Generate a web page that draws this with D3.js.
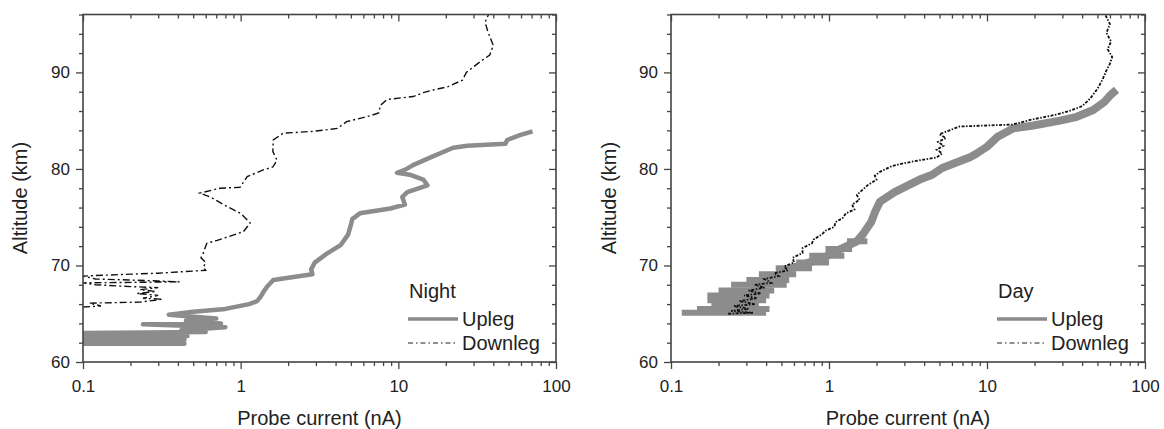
<!DOCTYPE html>
<html lang="en">
<head>
  <meta charset="utf-8">
  <title>Probe current vs altitude</title>
  <script src="https://d3js.org/d3.v7.min.js"></script>
  <style>
    body { margin: 0; background: #fff; }
    svg { font-family: "Liberation Sans", Arial, sans-serif; }
    .tick text { fill: #222; font-size: 17px; }
    .tick line { stroke: #444; stroke-width: 1.3; }
    .domain { display: none; }
    .upleg { fill: none; stroke: #8c8c8c; stroke-linejoin: round; }
    .downleg { fill: none; stroke: #111; }
  </style>
</head>
<body>
<div id="chart"></div>
<script>
"use strict"

// [current nA, altitude km]
var nightUpleg = [
  [0.1,61.9],[0.44,61.9],[0.1,62.3],[0.44,62.3],[0.1,62.7],[0.46,62.7],[0.1,63.0],[0.6,63.1],
  [0.42,63.3],[0.8,63.6],[0.24,63.9],[0.75,64.0],[0.45,64.3],[0.7,64.5],[0.35,64.9],[0.5,65.2],
  [0.8,65.5],[1.13,66.0],[1.27,66.3],[1.33,66.7],[1.4,67.3],[1.47,67.8],[1.61,68.5],[2.39,68.9],
  [2.85,69.1],[2.8,69.6],[2.95,70.3],[3.5,71.2],[4.3,72.1],[4.8,73.2],[5.0,74.2],[5.1,74.8],
  [5.7,75.4],[8.9,75.9],[11,76.3],[10.6,77.1],[11.4,77.6],[15.3,78.3],[14.4,78.9],[11.8,79.4],
  [9.8,79.6],[11.0,79.9],[12.4,80.4],[16,81.2],[22.3,82.2],[27.4,82.4],[47.8,82.6],[49,83.0],
  [59,83.5],[71,83.9]
];
var nightDownleg = [
  [0.1,65.7],[0.13,65.8],[0.11,66.1],[0.23,66.2],[0.32,66.5],[0.24,66.6],[0.3,66.9],[0.22,67.1],
  [0.29,67.3],[0.23,67.5],[0.3,67.7],[0.21,67.8],[0.12,68.0],[0.1,68.2],[0.41,68.3],[0.3,68.4],
  [0.12,68.6],[0.1,68.9],[0.2,69.1],[0.3,69.2],[0.6,69.5],[0.58,69.8],[0.6,70.3],[0.56,70.8],
  [0.58,71.3],[0.6,72.0],[0.61,72.3],[0.71,72.6],[1.04,73.5],[1.15,74.4],[1.0,75.4],[0.82,76.1],
  [0.64,77.1],[0.55,77.5],[0.74,78.0],[0.99,78.1],[1.1,79.2],[1.39,79.9],[1.6,80.2],[1.7,80.9],
  [1.6,81.8],[1.61,83.0],[1.86,83.7],[2.9,83.9],[4.1,84.2],[4.7,84.9],[6.6,85.5],[7.5,85.8],
  [7.7,86.6],[8.5,87.2],[12.4,87.5],[14.4,87.9],[16.8,88.2],[20.5,88.5],[25.5,89.2],[27,90.0],
  [33,91.1],[38,91.8],[40,92.8],[37,94.2],[35.5,95.2],[37.3,96.0]
];
var dayUpleg = [
  [0.25,65.2],[0.27,66.0],[0.3,66.9],[0.33,67.4],[0.38,68.0],[0.43,68.5],[0.5,69.2],[0.6,69.8],
  [0.78,70.4],[0.98,71.0],[1.18,71.7],[1.5,72.5],[1.65,73.3],[1.85,74.5],[1.95,75.5],[2.1,76.6],
  [2.6,77.6],[3.75,78.9],[4.5,79.4],[5.2,80.1],[7.8,81.2],[8.6,81.6],[10,82.3],[11.6,83.3],
  [14.6,84.2],[19.6,84.5],[29,85.0],[37,85.4],[47,86.1],[55,86.9],[60,87.6],[66,88.2]
];
// horizontal spread of the day upleg at low altitude: [left nA, right nA, altitude km]
var dayUplegSpread = [
  [0.117,0.40,65.1],[0.146,0.42,65.5],[0.18,0.36,66.0],[0.17,0.40,66.4],[0.17,0.42,66.9],
  [0.2,0.45,67.4],[0.24,0.54,68.0],[0.3,0.56,68.5],[0.36,0.62,69.1],[0.46,0.78,69.7],
  [0.62,1.0,70.3],[0.75,1.25,71.0],[0.95,1.4,71.7],[1.3,1.75,72.5]
];
var dayDownleg = [
  [0.23,65.0],[0.33,65.1],[0.24,65.3],[0.31,65.5],[0.25,65.8],[0.34,66.0],[0.27,66.3],[0.35,66.6],
  [0.29,66.9],[0.37,67.1],[0.31,67.4],[0.39,67.7],[0.34,68.0],[0.43,68.2],[0.39,68.6],[0.48,68.9],
  [0.45,69.2],[0.55,69.5],[0.52,69.9],[0.6,70.3],[0.59,70.8],[0.68,71.3],[0.68,71.8],[0.78,72.3],
  [0.8,72.7],[0.9,73.2],[0.95,73.6],[1.08,74.0],[1.1,74.5],[1.22,74.9],[1.28,75.4],[1.45,75.8],
  [1.4,76.3],[1.56,76.8],[1.5,77.3],[1.62,77.8],[1.75,78.3],[2.0,78.9],[1.95,79.3],[2.1,79.7],
  [2.5,80.3],[3.0,80.6],[3.75,80.9],[4.8,81.2],[5.2,81.6],[4.8,82.0],[5.3,82.4],[4.9,82.8],
  [5.5,83.2],[5.0,83.6],[5.8,84.0],[6.7,84.4],[10,84.5],[14.5,84.6],[19,85.1],[27,85.6],
  [33,86.0],[40,86.5],[45,87.3],[50,88.3],[54,89.3],[57,90.2],[60,90.9],[62,91.6],
  [58,92.4],[61,93.2],[57,94.1],[60,95.0],[56,96.0]
];

var xMajor = [0.1, 1, 10, 100];
var xMajorLabels = ["0.1", "1", "10", "100"];
var yMajor = [60, 70, 80, 90];
var yMinor = [62, 64, 66, 68, 72, 74, 76, 78, 82, 84, 86, 88, 92, 94, 96];

var W = 1164, H = 429;
var svg = d3.select("#chart").append("svg").attr("width", W).attr("height", H);

function drawPanel(opt) {
  var x = d3.scaleLog().domain([0.1, 100]).range([opt.left, opt.right]);
  var y = d3.scaleLinear().domain([60, 96]).range([362, 14.5]);
  var g = svg.append("g");
  var xMinor = x.ticks().filter(function(v) { return xMajor.indexOf(v) < 0; });

  var clipId = "clip" + opt.name;
  g.append("clipPath").attr("id", clipId).append("rect")
    .attr("x", opt.left).attr("y", 14.5).attr("width", opt.right - opt.left).attr("height", 362 - 14.5);

  var line = d3.line().x(function(d) { return x(d[0]); }).y(function(d) { return y(d[1]); });
  var plot = g.append("g").attr("clip-path", "url(#" + clipId + ")");
  if (opt.spread) {
    plot.selectAll(".bar").data(opt.spread).enter().append("line")
      .attr("class", "bar")
      .attr("x1", function(d) { return x(d[0]); })
      .attr("x2", function(d) { return x(d[1]); })
      .attr("y1", function(d) { return y(d[2]); })
      .attr("y2", function(d) { return y(d[2]); })
      .attr("stroke", "#8c8c8c").attr("stroke-width", 6);
  }
  plot.append("path").datum(opt.up).attr("class", "upleg")
    .attr("stroke-width", opt.upWidth).attr("d", line);
  plot.append("path").datum(opt.down).attr("class", "downleg")
    .style("stroke-dasharray", opt.dash).style("stroke-width", opt.downWidth).attr("d", line);

  // axes: outward on left/bottom, inward on top/right
  g.append("g").attr("transform", "translate(0,362)")
    .call(d3.axisBottom(x).tickValues(xMinor).tickSize(4).tickFormat(""));
  g.append("g").attr("transform", "translate(0,362)")
    .call(d3.axisBottom(x).tickValues(xMajor).tickSize(7).tickPadding(11)
      .tickFormat(function(d, i) { return xMajorLabels[i]; }));
  g.append("g").attr("transform", "translate(0,14.5)")
    .call(d3.axisTop(x).tickValues(xMinor).tickSize(-4).tickFormat(""));
  g.append("g").attr("transform", "translate(0,14.5)")
    .call(d3.axisTop(x).tickValues(xMajor).tickSize(-7).tickFormat(""));
  g.append("g").attr("transform", "translate(" + opt.left + ",0)")
    .call(d3.axisLeft(y).tickValues(yMinor).tickSize(4).tickFormat(""));
  g.append("g").attr("transform", "translate(" + opt.left + ",0)")
    .call(d3.axisLeft(y).tickValues(yMajor).tickSize(7).tickPadding(6));
  g.append("g").attr("transform", "translate(" + opt.right + ",0)")
    .call(d3.axisRight(y).tickValues(yMinor).tickSize(-4).tickFormat(""));
  g.append("g").attr("transform", "translate(" + opt.right + ",0)")
    .call(d3.axisRight(y).tickValues(yMajor).tickSize(-7).tickFormat(""));

  g.append("rect").attr("x", opt.left).attr("y", 14.5)
    .attr("width", opt.right - opt.left).attr("height", 362 - 14.5)
    .attr("fill", "none").attr("stroke", "#444").attr("stroke-width", 1.6);

  g.append("text")
    .attr("transform", "translate(" + opt.ytitleX + ",198) rotate(-90)")
    .attr("text-anchor", "middle").attr("font-size", 20).attr("fill", "#222")
    .text("Altitude (km)");
  g.append("text")
    .attr("x", (opt.left + opt.right) / 2).attr("y", 425)
    .attr("text-anchor", "middle").attr("font-size", 20).attr("fill", "#222")
    .text("Probe current (nA)");

  // legend
  var lx = opt.legendX;
  g.append("text").attr("x", lx).attr("y", 298).attr("font-size", 20).attr("fill", "#222").text(opt.name);
  g.append("line").attr("x1", lx - 1).attr("x2", lx + 49).attr("y1", 319).attr("y2", 319)
    .attr("stroke", "#8a8a8a").attr("stroke-width", 3.5);
  g.append("text").attr("x", lx + 53).attr("y", 326).attr("font-size", 20).attr("fill", "#222").text("Upleg");
  g.append("line").attr("x1", lx - 1).attr("x2", lx + 49).attr("y1", 343).attr("y2", 343)
    .attr("stroke", "#222").attr("stroke-width", 1.2).attr("stroke-dasharray", "5,3,1.5,3");
  g.append("text").attr("x", lx + 53).attr("y", 350).attr("font-size", 20).attr("fill", "#222").text("Downleg");
}

drawPanel({ name: "Night", left: 83, right: 556, up: nightUpleg, down: nightDownleg,
  upWidth: 4.5, dash: "7,3,2,3", downWidth: 1.4, ytitleX: 27, legendX: 409 });
drawPanel({ name: "Day", left: 671, right: 1145, up: dayUpleg, down: dayDownleg, spread: dayUplegSpread,
  upWidth: 8, dash: "3,1.5,1.5,1.5", downWidth: 1.8, ytitleX: 616, legendX: 998 });
</script>
</body>
</html>
